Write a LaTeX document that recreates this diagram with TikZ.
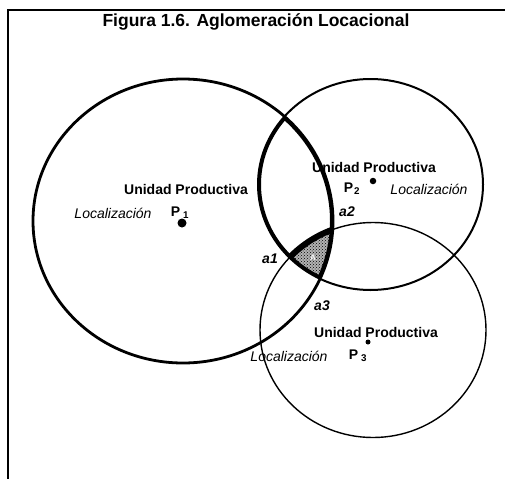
\documentclass[tikz,border=0pt]{standalone}
\usepackage{fontspec}
\setmainfont{Liberation Sans}
\usepackage{tikz}
\usetikzlibrary{patterns}

\begin{document}
\begin{tikzpicture}[
    x=1pt, y=-1pt,
    lbl/.style={font=\bfseries\fontsize{14}{16}\selectfont, inner sep=0pt},
    loc/.style={font=\itshape\fontsize{14}{16}\selectfont, inner sep=0pt},
    pt/.style={font=\bfseries\fontsize{14}{16}\selectfont, inner sep=0pt},
    ai/.style={font=\bfseries\itshape\fontsize{14}{16}\selectfont, inner sep=0pt},
    dot/.style={circle, fill=black, inner sep=0pt}
  ]
  \useasboundingbox (0,0) rectangle (505,479);
  % Frame and title
  \coordinate (tl) at (8,10);
  \coordinate (tr) at (505,10);
  \coordinate (bl) at (8,479);
  \draw[line width=1.5pt] (tr) -- (tl) -- (bl);
  \node[font=\bfseries\fontsize{17.5}{19}\selectfont, inner sep=0pt] (title) at (256,22)
    {Figura 1.6. Aglomeración Locacional};

  % Shaded area A
  \begin{scope}
    \clip (183,221) ellipse [x radius=150, y radius=142];
    \clip (370.5,184.5) ellipse [x radius=112.5, y radius=105.5];
    \fill[black!30] (373,330) ellipse [x radius=113, y radius=107.5];
    \fill[pattern=crosshatch dots, pattern color=black] (373,330) ellipse [x radius=113, y radius=107.5];
    \draw[line width=6pt] (183,221) ellipse [x radius=150, y radius=142];
    \draw[line width=6pt] (370.5,184.5) ellipse [x radius=112.5, y radius=105.5];
    \draw[line width=6pt] (373,330) ellipse [x radius=113, y radius=107.5];
  \end{scope}
  \node[font=\bfseries\fontsize{8}{9}\selectfont, inner sep=0pt, text=white] (A) at (313,258) {A};

  % Circles
  \draw[line width=2.8pt] (183,221) ellipse [x radius=150, y radius=142];
  \draw[line width=2pt] (370.5,184.5) ellipse [x radius=112.5, y radius=105.5];
  \draw[line width=1.4pt] (373,330) ellipse [x radius=113, y radius=107.5];

  % Productive unit 1
  \node[lbl] (up1) at (186,189) {Unidad Productiva};
  \node[loc] (loc1) at (113,213) {Localización};
  \node[pt] (p1) at (180,213) {P\hspace{3pt}\textsubscript{1}};
  \node[dot, minimum size=9pt] (d1) at (182,223) {};
  % Productive unit 2
  \node[lbl] (up2) at (374,167) {Unidad Productiva};
  \node[pt] (p2) at (352,189) {P\hspace{1pt}\textsubscript{2}};
  \node[dot, minimum size=6.5pt] (d2) at (373,181) {};
  \node[loc] (loc2) at (429,189) {Localización};
  % Productive unit 3
  \node[lbl] (up3) at (376,332) {Unidad Productiva};
  \node[dot, minimum size=5pt] (d3) at (368,342) {};
  \node[pt] (p3) at (358,356) {P\hspace{3pt}\textsubscript{3}};
  \node[loc] (loc3) at (289,356) {Localización};

  % Intersection points
  \node[ai] (a1) at (270,259) {a1};
  \node[ai] (a2) at (347,212) {a2};
  \node[ai] (a3) at (322,306) {a3};
\end{tikzpicture}
\end{document}
